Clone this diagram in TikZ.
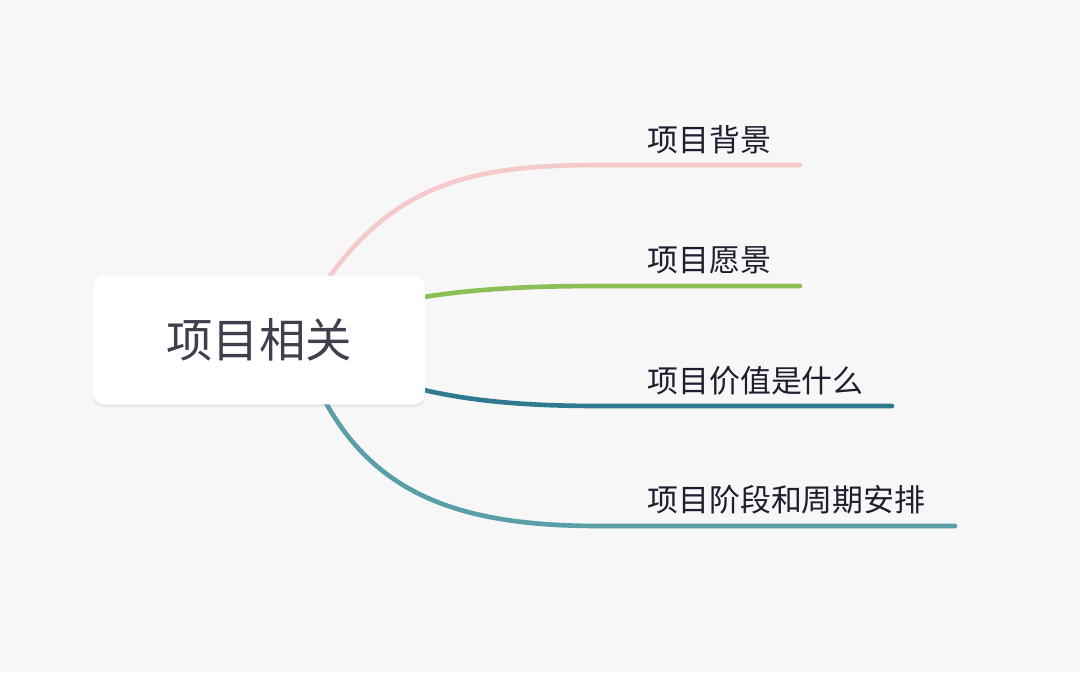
\documentclass[tikz,border=0pt]{standalone}
\usepackage{fontspec}
\newfontfamily\cjk{Noto Sans CJK SC}
\usetikzlibrary{shadows}
\definecolor{bgcol}{HTML}{F7F7F7}
\definecolor{pinkb}{HTML}{F5CACA}
\definecolor{greenb}{HTML}{8DBF58}
\definecolor{darkb}{HTML}{2F7A90}
\definecolor{tealb}{HTML}{5A9EA8}
\definecolor{txt}{HTML}{1E1E2E}
\tikzset{
  rootbox/.style={fill=white, rounded corners=8pt, minimum width=8.3cm, minimum height=3.22cm,
    drop shadow={opacity=0.12, shadow xshift=0pt, shadow yshift=-2pt}, font=\cjk\fontsize{33}{36}\selectfont, text=txt!85},
  branch/.style={line width=3.3pt, line cap=round},
  leaf/.style={anchor=west, inner sep=0pt, font=\cjk\fontsize{22}{24}\selectfont, text=txt}
}
\begin{document}
\begin{tikzpicture}[x=0.025cm,y=-0.025cm]
  \fill[bgcol] (0,0) rectangle (1080,672);
  \useasboundingbox (0,0) rectangle (1080,672);
  % branches
  \coordinate (p1) at (330,276);
  \coordinate (e1) at (800,165);
  \coordinate (p2) at (424,297);
  \coordinate (e2) at (800,286);
  \coordinate (p3) at (424,390);
  \coordinate (e3) at (892,406);
  \coordinate (p4) at (326,403);
  \coordinate (e4) at (955,526);
  \draw[branch, pinkb] (p1) .. controls (400,180) and (480,165) .. (600,165) -- (e1);
  \draw[branch, greenb] (p2) .. controls (480,288) and (540,286) .. (600,286) -- (e2);
  \draw[branch, darkb] (p3) .. controls (480,403) and (540,406) .. (600,406) -- (e3);
  \draw[branch, tealb] (p4) .. controls (380,500) and (470,526) .. (600,526) -- (e4);
  % root
  \node[rootbox] (root) at (259,340) {项目相关};
  % labels
  \node[leaf] (l1) at (647,140) {项目背景};
  \node[leaf] (l2) at (647,260) {项目愿景};
  \node[leaf] (l3) at (647,381) {项目价值是什么};
  \node[leaf] (l4) at (647,500) {项目阶段和周期安排};
\end{tikzpicture}
\end{document}
